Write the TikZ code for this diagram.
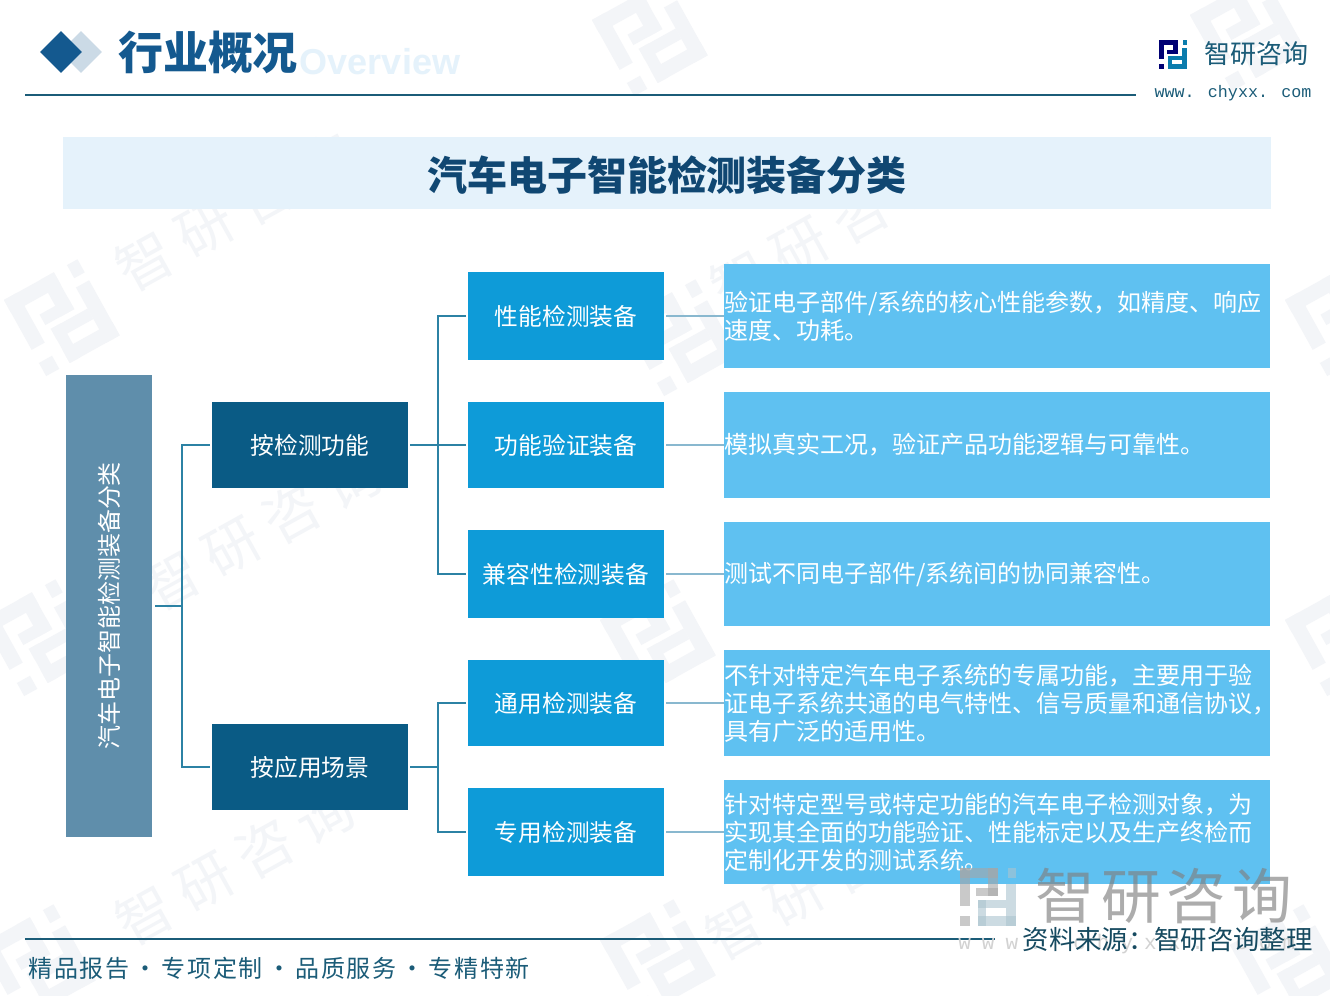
\documentclass[tikz,border=0pt]{standalone}
\usepackage{fontspec}
\setmainfont{Noto Sans CJK SC}
\newfontfamily\latinmono{Liberation Mono}
\newfontfamily\spacedmono[LetterSpace=52]{Liberation Mono}
\newfontfamily\latinbold{Liberation Sans}
\newfontfamily\spacedcjk[LetterSpace=7]{Noto Sans CJK SC}
\newfontfamily\ghostcjk[LetterSpace=22]{Noto Sans CJK SC}
\newfontfamily\stampcjk[LetterSpace=10]{Noto Sans CJK SC}
\usetikzlibrary{shapes.geometric}
\definecolor{darkteal}{HTML}{0A5B85}
\definecolor{rootblue}{HTML}{5F8EAB}
\definecolor{midblue}{HTML}{0E9BD8}
\definecolor{noteblue}{HTML}{5FC1F1}
\definecolor{headnavy}{HTML}{14598F}
\definecolor{linedark}{HTML}{1B5C78}
\definecolor{busblue}{HTML}{2C82A4}
\definecolor{titlepale}{HTML}{E5F2FB}
\definecolor{ghost}{HTML}{F3F5F8}
\tikzset{
  rootbox/.style={
    rectangle, fill=rootblue, inner sep=0pt,
    minimum width=1.72cm, minimum height=9.24cm
  },
  groupbox/.style={
    rectangle, fill=darkteal, text=white, inner sep=0pt,
    minimum width=3.92cm, minimum height=1.72cm,
    font=\fontsize{13.5pt}{15.9pt}\selectfont
  },
  itembox/.style={
    rectangle, fill=midblue, text=white, inner sep=0pt,
    minimum width=3.92cm, minimum height=1.76cm,
    font=\fontsize{13.5pt}{15.9pt}\selectfont
  },
  notebox/.style={
    rectangle, fill=noteblue, text=white, inner sep=0pt,
    text width=10.92cm, minimum height=2.08cm, align=left,
    font=\fontsize{13.66pt}{15.9pt}\selectfont
  },
  bus line/.style={draw=busblue, line width=1.1pt},
  note line/.style={draw=noteblue!60!gray!80, line width=0.9pt},
  ghost mark/.style={
    text=ghost, rotate=29,
    font=\ghostcjk\fontsize{32pt}{34pt}\selectfont
  },
  logo a/.style={fill=ghost},
  logo b/.style={fill=ghost},
  logomark/.pic={
    \fill[logo a] (0,0) rectangle (19,5);
    \fill[logo a] (14,0) rectangle (19,14);
    \fill[logo a] (8,10) rectangle (19,14);
    \fill[logo a] (0,0) rectangle (5,19);
    \fill[logo a] (0,24) rectangle (5,29);
    \fill[logo b] (24,0) rectangle (28,5);
    \fill[logo b] (23,8) rectangle (28,29);
    \fill[logo b] (9,24) rectangle (28,29);
    \fill[logo b] (9,16) rectangle (13,29);
    \fill[logo b] (9,16) rectangle (23,20);
  },
}

\begin{document}
\begin{tikzpicture}[x=0.02cm, y=-0.02cm]

  % Page
  \fill[white] (0,0) rectangle (1330,996);
  \useasboundingbox (0,0) rectangle (1330,996);

  % Watermarks
  \foreach \wx/\wy in {235/211, 262/530, 235/865, 830/230, 825/880}
    \node[ghost mark] (wm\wx) at (\wx,\wy) {智研咨询};
  \foreach \lx/\ly in {4/300, -18/620, -20/945, 592/20, 622/320, 600/620, 600/940, 1190/15, 1285/300, 1285/620, 1230/945}
    \pic[rotate=29, scale=3] at (\lx,\ly) {logomark};

  % Header
  \node[diamond, fill=headnavy!22!white, inner sep=0pt, minimum size=0.84cm] (diamondback) at (81,52) {};
  \node[diamond, fill=headnavy, inner sep=0pt, minimum size=0.84cm] (diamondfront) at (61,52) {};
  \node[text=titlepale, font=\latinbold\bfseries\fontsize{20.5pt}{22pt}\selectfont] (overview) at (380,62) {Overview};
  \node[text=headnavy, font=\bfseries\fontsize{25.6pt}{28pt}\selectfont] (headtitle) at (208,53) {行业概况};
  \coordinate (headleft) at (25,95);
  \coordinate (headright) at (1136,95);
  \draw[linedark, line width=0.9pt] (headleft) -- (headright);
  \begin{scope}[logo a/.style={fill=blue!45!black}, logo b/.style={fill=midblue!80!black}]
    \pic at (1159,40) {logomark};
  \end{scope}
  \node[text=linedark, font=\fontsize{14.8pt}{16pt}\selectfont] (brand) at (1256,54) {智研咨询};
  \node[text=linedark, font=\latinmono\fontsize{9.5pt}{12pt}\selectfont] (website) at (1233,93) {www. chyxx. com};

  % Title band
  \node[rectangle, fill=titlepale, inner sep=0pt, minimum width=24.16cm, minimum height=1.46cm] (band) at (667,173) {};
  \node[text=headnavy!80!black, font=\bfseries\fontsize{22.76pt}{25pt}\selectfont] (bandtitle) at (667,175) {汽车电子智能检测装备分类};

  % Boxes
  \node[rootbox] (root) at (109,606) {};
  \node[rotate=90, text=white, font=\fontsize{13.66pt}{15.9pt}\selectfont] (roottext) at (root.center) {汽车电子智能检测装备分类};

  \node[groupbox] (byfunc) at (310,445) {按检测功能};
  \node[groupbox] (byscene) at (310,767) {按应用场景};

  \node[itembox] (perf) at (566,316) {性能检测装备};
  \node[itembox, minimum height=1.72cm] (verify) at (566,445) {功能验证装备};
  \node[itembox] (compat) at (566,574) {兼容性检测装备};
  \node[itembox, minimum height=1.72cm] (general) at (566,703) {通用检测装备};
  \node[itembox] (special) at (566,832) {专用检测装备};

  \node[notebox] (perfnote) at (997,316) {验证电子部件/系统的核心性能参数，如精度、响应\\速度、功耗。};
  \node[notebox, minimum height=2.12cm] (verifynote) at (997,445) {模拟真实工况，验证产品功能逻辑与可靠性。};
  \node[notebox] (compatnote) at (997,574) {测试不同电子部件/系统间的协同兼容性。};
  \node[notebox, minimum height=2.12cm] (generalnote) at (997,703) {不针对特定汽车电子系统的专属功能，主要用于验\\证电子系统共通的电气特性、信号质量和通信协议，\\具有广泛的适用性。};
  \node[notebox] (specialnote) at (997,832) {针对特定型号或特定功能的汽车电子检测对象，为\\实现其全面的功能验证、性能标定以及生产终检而\\定制化开发的测试系统。};

  % Connectors
  \coordinate (rootbus) at (182,606);
  \coordinate (funcbus) at (438,445);
  \coordinate (scenebus) at (438,767);
  \draw[bus line, shorten <=1.7pt] (root.east) -- (rootbus);
  \draw[bus line, shorten >=1pt] (rootbus) |- (byfunc.west);
  \draw[bus line, shorten >=1pt] (rootbus) |- (byscene.west);
  \draw[bus line, shorten <=1pt] (byfunc.east) -- (funcbus);
  \draw[bus line, shorten >=1pt] (funcbus) |- (perf.west);
  \draw[bus line, shorten >=1pt] (funcbus) -- (verify.west);
  \draw[bus line, shorten >=1pt] (funcbus) |- (compat.west);
  \draw[bus line, shorten <=1pt] (byscene.east) -- (scenebus);
  \draw[bus line, shorten >=1pt] (scenebus) |- (general.west);
  \draw[bus line, shorten >=1pt] (scenebus) |- (special.west);
  \draw[note line, shorten <=1pt] (perf.east) -- (perfnote.west);
  \draw[note line, shorten <=1pt] (verify.east) -- (verifynote.west);
  \draw[note line, shorten <=1pt] (compat.east) -- (compatnote.west);
  \draw[note line, shorten <=1pt] (general.east) -- (generalnote.west);
  \draw[note line, shorten <=1pt] (special.east) -- (specialnote.west);

  % Footer
  \coordinate (footleft) at (25,939);
  \coordinate (footright) at (995,939);
  \draw[linedark, line width=0.9pt] (footleft) -- (footright);
  \node[text=linedark, anchor=west, inner sep=0pt, font=\spacedcjk\fontsize{13.66pt}{15.9pt}\selectfont] (slogan) at (28,968) {精品报告\kern-1.6pt{} · \kern-1.6pt{}专项定制\kern-1.6pt{} · \kern-1.6pt{}品质服务\kern-1.6pt{} · \kern-1.6pt{}专精特新};

  % Corner stamp
  \begin{scope}[logo a/.style={fill=gray!70, fill opacity=0.6}, logo b/.style={fill=midblue!35!gray!50, fill opacity=0.6}]
    \pic[scale=2] at (960,868) {logomark};
  \end{scope}
  \node[text=gray, text opacity=0.65, font=\stampcjk\fontsize{34pt}{36pt}\selectfont] (stamp) at (1164,896) {智研咨询};
  \node[text=gray!35, anchor=west, inner sep=0pt, font=\spacedmono\fontsize{12pt}{14pt}\selectfont] (stampweb) at (958,944) {www. chyxx. com};
  \node[text=linedark!80!black, anchor=east, inner sep=0pt, font=\fontsize{15pt}{17pt}\selectfont] (source) at (1313,940) {资料来源：智研咨询整理};

\end{tikzpicture}
\end{document}
